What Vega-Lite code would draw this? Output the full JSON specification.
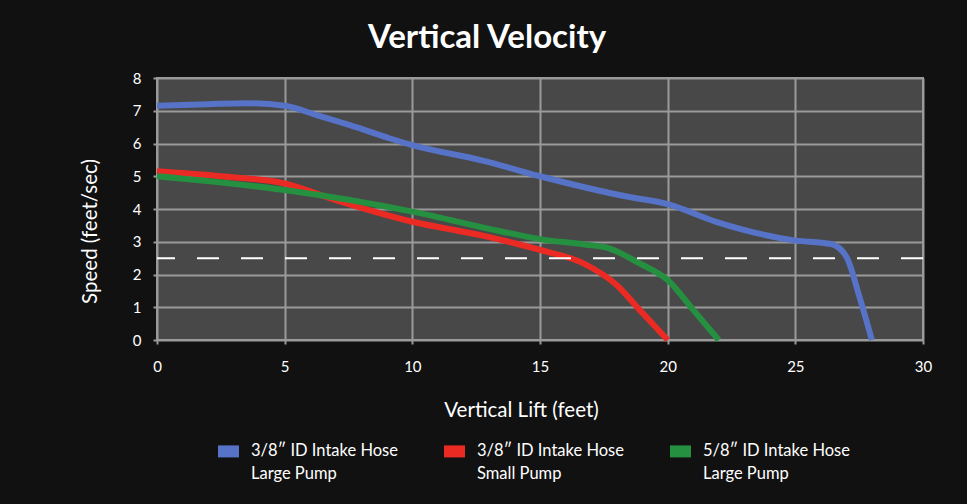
{
  "$schema": "https://vega.github.io/schema/vega-lite/v6.json",
  "autosize": {"type": "none"},
  "padding": {"left": 157, "top": 78, "right": 44, "bottom": 164},
  "width": 766,
  "height": 262,
  "background": "#111111",
  "title": {
    "text": "Vertical Velocity",
    "color": "#ffffff",
    "font": "Lato",
    "fontSize": 33,
    "fontWeight": "bold",
    "anchor": "middle",
    "dx": -53,
    "offset": 16
  },
  "config": {
    "view": {"fill": "#484848", "stroke": "#9a9a9a", "strokeWidth": 2},
    "axis": {
      "labelColor": "#ffffff",
      "labelFont": "Lato",
      "labelFontSize": 15,
      "labelFlush": false,
      "titleColor": "#ffffff",
      "titleFont": "Lato",
      "titleFontSize": 20.5,
      "titleFontWeight": "normal",
      "gridColor": "#9a9a9a",
      "gridWidth": 2,
      "gridOpacity": 1,
      "domain": false,
      "tickColor": "#9a9a9a",
      "tickWidth": 2,
      "tickSize": 4
    }
  },
  "datasets": {
    "curves": [
      {"hose": "blue", "lift": 0, "speed": 7.15},
      {"hose": "blue", "lift": 2, "speed": 7.2},
      {"hose": "blue", "lift": 3.5, "speed": 7.23},
      {"hose": "blue", "lift": 5, "speed": 7.15},
      {"hose": "blue", "lift": 6.25, "speed": 6.87},
      {"hose": "blue", "lift": 7.56, "speed": 6.56},
      {"hose": "blue", "lift": 9.1, "speed": 6.16},
      {"hose": "blue", "lift": 10, "speed": 5.95},
      {"hose": "blue", "lift": 12.8, "speed": 5.47},
      {"hose": "blue", "lift": 15, "speed": 5.0},
      {"hose": "blue", "lift": 18.4, "speed": 4.38},
      {"hose": "blue", "lift": 20, "speed": 4.15},
      {"hose": "blue", "lift": 21.9, "speed": 3.61},
      {"hose": "blue", "lift": 24.9, "speed": 3.05},
      {"hose": "blue", "lift": 26.4, "speed": 2.93},
      {"hose": "blue", "lift": 27.0, "speed": 2.54},
      {"hose": "blue", "lift": 27.5, "speed": 1.35},
      {"hose": "blue", "lift": 28, "speed": 0},
      {"hose": "red", "lift": 0, "speed": 5.15},
      {"hose": "red", "lift": 2.5, "speed": 5.0},
      {"hose": "red", "lift": 5, "speed": 4.78},
      {"hose": "red", "lift": 7, "speed": 4.27},
      {"hose": "red", "lift": 10, "speed": 3.61},
      {"hose": "red", "lift": 12.8, "speed": 3.18},
      {"hose": "red", "lift": 15, "speed": 2.75},
      {"hose": "red", "lift": 16.7, "speed": 2.34},
      {"hose": "red", "lift": 18.0, "speed": 1.68},
      {"hose": "red", "lift": 18.9, "speed": 0.92},
      {"hose": "red", "lift": 20, "speed": 0},
      {"hose": "green", "lift": 0, "speed": 5.0},
      {"hose": "green", "lift": 5, "speed": 4.58},
      {"hose": "green", "lift": 10, "speed": 3.92},
      {"hose": "green", "lift": 13.4, "speed": 3.33},
      {"hose": "green", "lift": 15, "speed": 3.08},
      {"hose": "green", "lift": 16.7, "speed": 2.92},
      {"hose": "green", "lift": 17.7, "speed": 2.8},
      {"hose": "green", "lift": 18.9, "speed": 2.34},
      {"hose": "green", "lift": 20, "speed": 1.83},
      {"hose": "green", "lift": 21, "speed": 0.92},
      {"hose": "green", "lift": 22, "speed": 0}
    ],
    "threshold": [{"speed": 2.5}]
  },
  "layer": [
    {
      "data": {"name": "curves"},
      "mark": {"type": "line", "interpolate": "monotone", "strokeWidth": 6, "strokeCap": "butt", "strokeJoin": "round"},
      "encoding": {
        "x": {
          "field": "lift", "type": "quantitative",
          "scale": {"domain": [0, 30], "nice": false},
          "axis": {"values": [0, 5, 10, 15, 20, 25, 30], "tickCount": 10, "format": "d", "title": "Vertical Lift (feet)", "labelPadding": 15, "titlePadding": 26, "titleX": 364}
        },
        "y": {
          "field": "speed", "type": "quantitative",
          "scale": {"domain": [0, 8], "nice": false},
          "axis": {"values": [0, 1, 2, 3, 4, 5, 6, 7, 8], "tickCount": 12, "format": "d", "title": "Speed (feet/sec)", "labelPadding": 12, "titlePadding": 32, "titleY": 153}
        },
        "color": {
          "field": "hose", "type": "nominal",
          "scale": {"domain": ["blue", "red", "green"], "range": ["#5673C7", "#EC2A24", "#259040"]},
          "legend": {
            "title": null,
            "orient": "none",
            "legendX": 55,
            "legendY": 348,
            "direction": "horizontal",
            "columns": 3,
            "columnPadding": 22,
            "labelExpr": "datum.label == 'blue' ? ['3/8″ ID Intake Hose', 'Large Pump'] : datum.label == 'red' ? ['3/8″ ID Intake Hose', 'Small Pump'] : ['5/8″ ID Intake Hose', 'Large Pump']",
            "labelColor": "#ffffff",
            "labelFont": "Lato",
            "labelFontSize": 16.5,
            "labelLimit": 300,
            "labelOffset": 6,
            "labelBaseline": "top",
            "symbolType": "M-1,0.85H1",
            "symbolSize": 440,
            "symbolStrokeWidth": 12,
            "symbolOpacity": 1,
            "encode": {"labels": {"update": {"lineHeight": {"value": 23}}}}
          }
        }
      }
    },
    {
      "data": {"name": "threshold"},
      "mark": {"type": "rule", "color": "#ffffff", "strokeWidth": 2, "strokeDash": [22, 22]},
      "encoding": {
        "y": {"field": "speed", "type": "quantitative", "axis": {"values": [0, 1, 2, 3, 4, 5, 6, 7, 8], "tickCount": 12, "format": "d", "title": "Speed (feet/sec)", "labelPadding": 12, "titlePadding": 32, "titleY": 153}}
      }
    }
  ]
}
